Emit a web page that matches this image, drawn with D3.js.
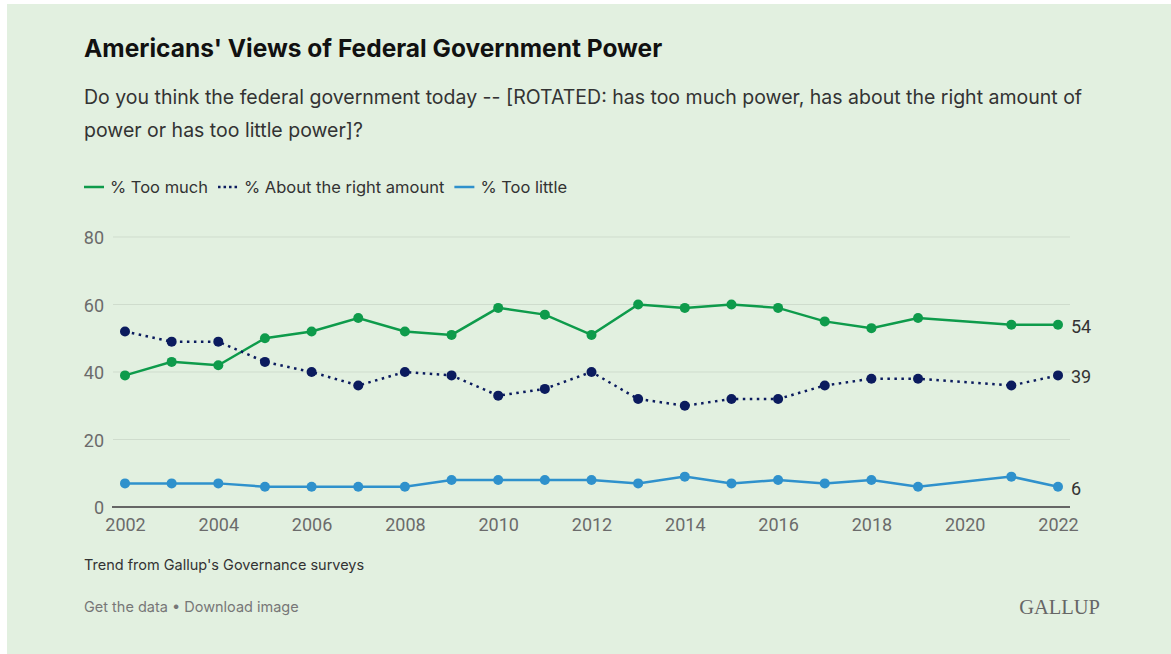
<!DOCTYPE html>
<html>
<head>
<meta charset="utf-8">
<script src="https://cdn.jsdelivr.net/npm/d3@7"></script>
<style>
  html, body { margin: 0; padding: 0; background: #fff; }
  svg { display: block; }
  .tick text { font-family: Roboto, sans-serif; }
</style>
</head>
<body>
<div id="chart"></div>
<script>
// survey years (no 2020 reading)
var years = [2002, 2003, 2004, 2005, 2006, 2007, 2008, 2009, 2010, 2011, 2012,
             2013, 2014, 2015, 2016, 2017, 2018, 2019, 2021, 2022];
var tooMuch = [39, 43, 42, 50, 52, 56, 52, 51, 59, 57, 51, 60, 59, 60, 59, 55, 53, 56, 54, 54];
var aboutRight = [52, 49, 49, 43, 40, 36, 40, 39, 33, 35, 40, 32, 30, 32, 32, 36, 38, 38, 36, 39];
var tooLittle = [7, 7, 7, 6, 6, 6, 6, 8, 8, 8, 8, 7, 9, 7, 8, 7, 8, 6, 9, 6];
var yTicks = [0, 20, 40, 60, 80];
var xTicks = [2002, 2004, 2006, 2008, 2010, 2012, 2014, 2016, 2018, 2020, 2022];

var seriesNames = ['% Too much', '% About the right amount', '% Too little'];
var seriesColors = ['#0e9b4b', '#0b1b5e', '#2f91cc'];

var W = 1171, H = 654;
var svg = d3.select('#chart').append('svg')
  .attr('width', W)
  .attr('height', H);

// panel background
svg.append('rect')
  .attr('x', 7).attr('y', 4)
  .attr('width', W - 7).attr('height', H - 4)
  .attr('fill', '#e2f0e0');

var font = 'Inter, "Noto Sans", sans-serif';

svg.append('text')
  .attr('x', 84).attr('y', 57)
  .attr('font-family', font)
  .attr('font-size', 24.5)
  .attr('font-weight', 700)
  .attr('fill', '#111')
  .text("Americans' Views of Federal Government Power");

var sub = svg.append('text')
  .attr('font-family', font)
  .attr('font-size', 19.5)
  .attr('fill', '#333');
sub.append('tspan').attr('x', 84).attr('y', 104)
  .text('Do you think the federal government today -- [ROTATED: has too much power, has about the right amount of');
sub.append('tspan').attr('x', 84).attr('y', 137)
  .text('power or has too little power]?');

// legend
var legend = svg.append('g').attr('transform', 'translate(84,187)');
var lx = 0;
seriesNames.forEach(function (name, i) {
  var g = legend.append('g').attr('transform', 'translate(' + lx + ',0)');
  g.append('line')
    .attr('x1', 0).attr('x2', 20)
    .attr('y1', 0).attr('y2', 0)
    .attr('stroke', seriesColors[i])
    .attr('stroke-width', 2.5)
    .attr('stroke-dasharray', i === 1 ? '2.5,3' : null);
  var t = g.append('text')
    .attr('x', 26).attr('y', 6)
    .attr('font-family', font)
    .attr('font-size', 16.5)
    .attr('fill', '#333')
    .text(name);
  lx += 26 + t.node().getComputedTextLength() + 10;
});

var margin = {left: 125, right: 113, top: 237, bottom: 147};
var x = d3.scaleLinear()
  .domain([2002, 2022])
  .range([margin.left, W - margin.right]);
var y = d3.scaleLinear()
  .domain([0, 80])
  .range([H - margin.bottom, margin.top]);

// gridlines
svg.append('g')
  .selectAll('line')
  .data(yTicks.slice(1))
  .join('line')
  .attr('x1', 113).attr('x2', 1070)
  .attr('y1', function (d) { return y(d); })
  .attr('y2', function (d) { return y(d); })
  .attr('stroke', '#cfdccd')
  .attr('stroke-width', 1);

// y labels
svg.append('g')
  .selectAll('text')
  .data(yTicks)
  .join('text')
  .attr('x', 104)
  .attr('y', function (d) { return y(d) + 7; })
  .attr('text-anchor', 'end')
  .attr('font-family', 'Roboto, sans-serif')
  .attr('font-size', 18)
  .attr('fill', '#6b6b6b')
  .text(function (d) { return d; });

// x axis
var xAxis = svg.append('g')
  .attr('transform', 'translate(0,' + y(0) + ')')
  .call(d3.axisBottom(x).tickValues(xTicks).tickFormat(d3.format('d')).tickSize(0).tickPadding(11));
xAxis.select('.domain').remove();
xAxis.selectAll('text')
  .attr('font-size', 18)
  .attr('fill', '#6b6b6b');
svg.append('line')
  .attr('x1', 112).attr('x2', 1070)
  .attr('y1', y(0)).attr('y2', y(0))
  .attr('stroke', '#666')
  .attr('stroke-width', 2);

var allSeries = [tooMuch, aboutRight, tooLittle];
var line = d3.line()
  .x(function (d, i) { return x(years[i]); })
  .y(function (d) { return y(d); });

allSeries.forEach(function (vals, s) {
  var g = svg.append('g');
  g.append('path')
    .datum(vals)
    .attr('d', line)
    .attr('fill', 'none')
    .attr('stroke', seriesColors[s])
    .attr('stroke-width', 2.5)
    .attr('stroke-dasharray', s === 1 ? '2.5,4.5' : null);
  g.selectAll('circle')
    .data(vals)
    .join('circle')
    .attr('cx', function (d, i) { return x(years[i]); })
    .attr('cy', function (d) { return y(d); })
    .attr('r', 5)
    .attr('fill', seriesColors[s]);
  // end label
  g.append('text')
    .attr('x', x(years[years.length - 1]) + 13)
    .attr('y', y(vals[vals.length - 1]) + 8)
    .attr('font-family', 'Roboto, sans-serif')
    .attr('font-size', 18)
    .attr('fill', '#333')
    .text(vals[vals.length - 1]);
});

// footer
svg.append('text')
  .attr('x', 84).attr('y', 570)
  .attr('font-family', font)
  .attr('font-size', 14.5)
  .attr('fill', '#333')
  .text("Trend from Gallup's Governance surveys");

svg.append('text')
  .attr('x', 84).attr('y', 612)
  .attr('font-family', font)
  .attr('font-size', 14.5)
  .attr('fill', '#777')
  .text('Get the data \u2022 Download image');

svg.append('text')
  .attr('x', 1100).attr('y', 614)
  .attr('text-anchor', 'end')
  .attr('font-family', '"Liberation Serif", "DejaVu Serif", serif')
  .attr('font-size', 20.5)
  .attr('fill', '#666')
  .text('GALLUP');
</script>
</body>
</html>
